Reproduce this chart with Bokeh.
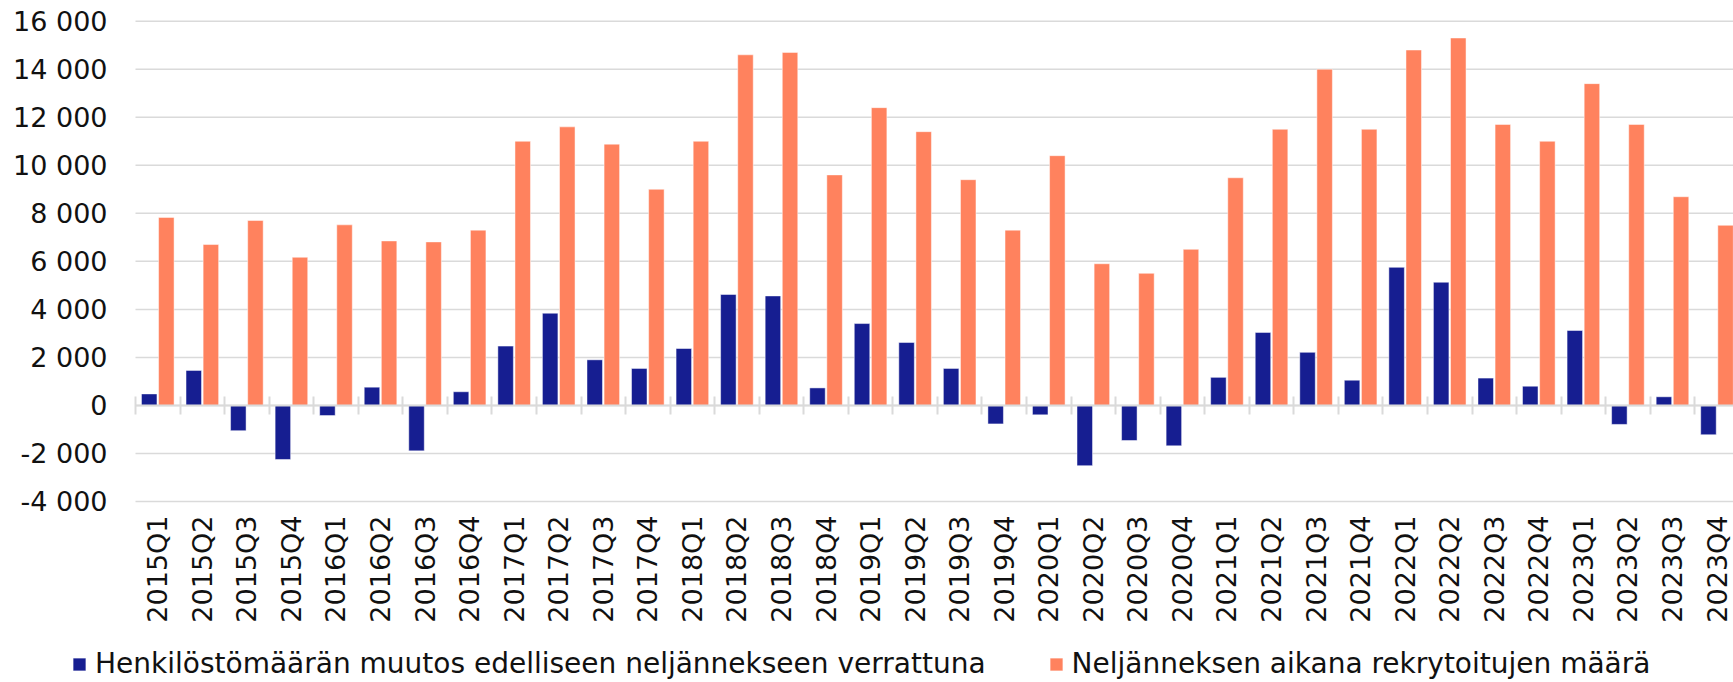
import math
from bokeh.plotting import figure
from bokeh.models import (ColumnDataSource, Range1d, FixedTicker, LinearAxis,
                          Legend, LegendItem)
from bokeh.transform import dodge
from bokeh.embed import file_html
from bokeh.resources import INLINE

quarters = ["2015Q1", "2015Q2", "2015Q3", "2015Q4",
            "2016Q1", "2016Q2", "2016Q3", "2016Q4",
            "2017Q1", "2017Q2", "2017Q3", "2017Q4",
            "2018Q1", "2018Q2", "2018Q3", "2018Q4",
            "2019Q1", "2019Q2", "2019Q3", "2019Q4",
            "2020Q1", "2020Q2", "2020Q3", "2020Q4",
            "2021Q1", "2021Q2", "2021Q3", "2021Q4",
            "2022Q1", "2022Q2", "2022Q3", "2022Q4",
            "2023Q1", "2023Q2", "2023Q3", "2023Q4"]

staff_change = [480, 1460, -1050, -2250,
                -420, 760, -1890, 570,
                2470, 3840, 1900, 1540,
                2370, 4620, 4560, 730,
                3410, 2620, 1540, -770,
                -390, -2510, -1460, -1680,
                1170, 3040, 2210, 1050,
                5750, 5130, 1140, 800,
                3120, -790, 360, -1220]

recruits = [7830, 6700, 7700, 6170,
            7520, 6850, 6810, 7300,
            11000, 11600, 10880, 9000,
            11000, 14600, 14700, 9600,
            12400, 11400, 9400, 7300,
            10400, 5900, 5500, 6500,
            9480, 11500, 14000, 11500,
            14800, 15300, 11700, 11000,
            13400, 11700, 8690, 7500]

series_names = ["Henkilöstömäärän muutos edelliseen neljännekseen verrattuna",
                "Neljänneksen aikana rekrytoitujen määrä"]

y_ticks = [-4000, -2000, 0, 2000, 4000, 6000, 8000, 10000, 12000, 14000, 16000]
y_tick_labels = ["-4 000", "-2 000", "0", "2 000", "4 000", "6 000", "8 000",
                 "10 000", "12 000", "14 000", "16 000"]

BLUE = "#161e91"
ORANGE = "#ff825e"
GRID = "#dadada"
FONT = "DejaVu Sans"
TXT = "#111111"

# ---- layout (pixels) ----
W, H = 1733, 682
PLOT_LEFT = 135.0      # px where first category starts
CAT_PX = 44.55         # px per category
TOP_PX = 20.7          # px of top tick
BOT_PX = 501.0         # px of bottom tick

n = len(quarters)
xs = list(range(n))
ymin, ymax = min(y_ticks), max(y_ticks)
ppu = (BOT_PX - TOP_PX) / (ymax - ymin)
x_start = -0.5 - PLOT_LEFT / CAT_PX
x_end = x_start + W / CAT_PX
y_end = ymax + TOP_PX / ppu
y_start = ymin - (H - BOT_PX) / ppu

src = ColumnDataSource(data=dict(x=xs, q=quarters, change=staff_change, rec=recruits))

p = figure(width=W, height=H, output_backend="svg", toolbar_location=None,
           x_range=Range1d(x_start, x_end), y_range=Range1d(y_start, y_end),
           x_axis_location=None, y_axis_location=None,
           min_border=0, min_border_left=0, min_border_right=0,
           min_border_top=0, min_border_bottom=0)
p.outline_line_color = None
p.background_fill_color = "white"
p.border_fill_color = "white"
for g in p.grid:
    g.visible = False

# horizontal gridlines over the category span
left_edge, right_edge = -0.5, n - 0.5
p.segment(x0=[left_edge] * len(y_ticks), x1=[right_edge] * len(y_ticks),
          y0=y_ticks, y1=y_ticks, line_color=GRID, line_width=1.5, level="underlay")

bw = 0.348
r1 = p.vbar(x=dodge("x", -0.192, range=p.x_range), top="change", width=bw,
            source=src, fill_color=BLUE, line_color="white", line_width=0.8,
            line_alpha=0.6)
r2 = p.vbar(x=dodge("x", 0.192, range=p.x_range), top="rec", width=bw,
            source=src, fill_color=ORANGE, line_color="white", line_width=0.8,
            line_alpha=0.6)

# y axis (labels only), fixed at the left edge of the categories
ya = LinearAxis(ticker=FixedTicker(ticks=y_ticks), fixed_location=left_edge)
ya.major_label_overrides = {t: l for t, l in zip(y_ticks, y_tick_labels)}
ya.axis_line_color = None
ya.major_tick_line_color = None
ya.minor_tick_line_color = None
ya.major_tick_out = 0
ya.major_tick_in = 0
ya.major_label_standoff = 28
ya.major_label_text_font = FONT
ya.major_label_text_font_size = "27px"
ya.major_label_text_color = TXT
p.add_layout(ya, "left")

# category labels below the bottom tick
xa = LinearAxis(ticker=FixedTicker(ticks=xs), fixed_location=ymin)
xa.major_label_overrides = {i: q for i, q in zip(xs, quarters)}
xa.axis_line_color = None
xa.major_tick_line_color = None
xa.minor_tick_line_color = None
xa.major_tick_out = 0
xa.major_tick_in = 0
xa.major_label_standoff = 14
xa.major_label_orientation = math.pi / 2
xa.major_label_text_font = FONT
xa.major_label_text_font_size = "27px"
xa.major_label_text_color = TXT
p.add_layout(xa, "below")

# zero axis line with boundary ticks
bounds = [i - 0.5 for i in range(n + 1)]
za = LinearAxis(ticker=FixedTicker(ticks=[], minor_ticks=bounds), fixed_location=0,
                bounds=(left_edge, x_end))
za.axis_line_color = GRID
za.axis_line_width = 2
za.major_tick_line_color = None
za.minor_tick_line_color = GRID
za.minor_tick_line_width = 2
za.minor_tick_in = 9
za.minor_tick_out = 9
za.major_label_text_alpha = 0
p.add_layout(za, "below")

legend = Legend(items=[LegendItem(label=series_names[0], renderers=[r1]),
                       LegendItem(label=series_names[1], renderers=[r2])],
                orientation="horizontal", location=(71, 2))
legend.border_line_color = None
legend.background_fill_alpha = 0
legend.padding = 0
legend.margin = 0
legend.spacing = 62
legend.glyph_width = 16
legend.glyph_height = 16
legend.label_standoff = 8
legend.label_text_font = FONT
legend.label_text_font_size = "28px"
legend.label_text_color = TXT
p.add_layout(legend)

open("out.html", "w").write(file_html(p, INLINE))
